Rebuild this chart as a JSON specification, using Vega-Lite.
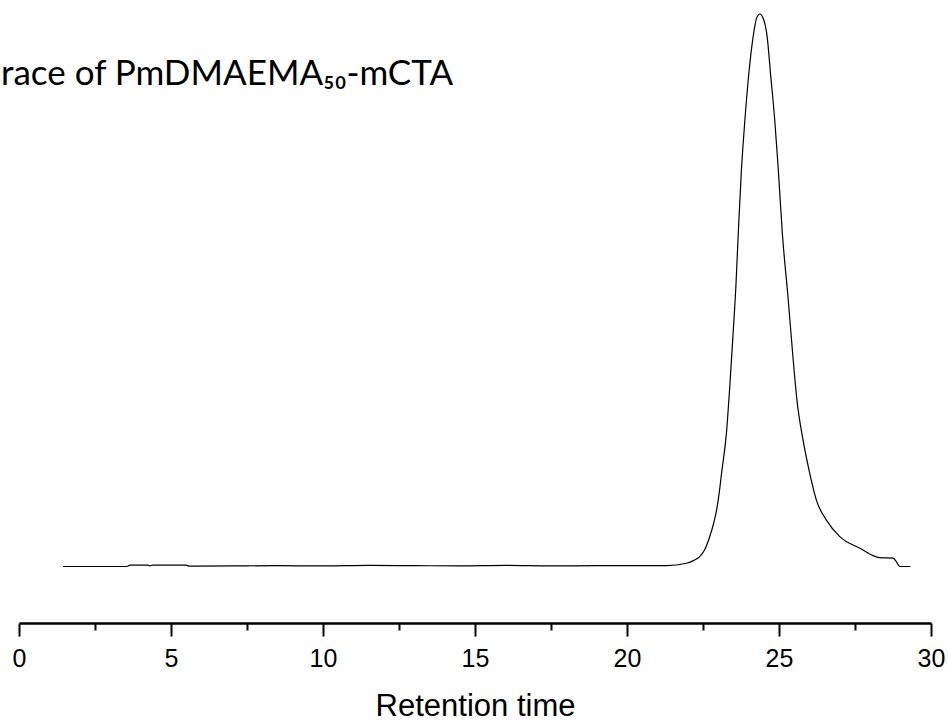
{
  "$schema": "https://vega.github.io/schema/vega-lite/v6.json",
  "autosize": {"type": "none"},
  "padding": {"left": 19, "top": 0, "right": 17, "bottom": 100},
  "width": 912,
  "height": 623,
  "background": "white",
  "title": {
    "text": "race of PmDMAEMA₅₀-mCTA",
    "orient": "top",
    "anchor": "start",
    "frame": "group",
    "offset": 0,
    "baseline": "alphabetic",
    "dx": -18,
    "dy": 120,
    "font": "Lato",
    "fontSize": 35,
    "fontWeight": "normal",
    "color": "black"
  },
  "config": {"view": {"stroke": null}},
  "data": {
    "values": [
      {"t": 1.45, "v": 0.0},
      {"t": 2.5, "v": 0.0},
      {"t": 3.55, "v": 0.0},
      {"t": 3.65, "v": 0.25},
      {"t": 4.25, "v": 0.25},
      {"t": 4.31, "v": 0.1},
      {"t": 4.4, "v": 0.25},
      {"t": 5.5, "v": 0.25},
      {"t": 5.6, "v": 0.05},
      {"t": 7.0, "v": 0.1},
      {"t": 8.5, "v": 0.15},
      {"t": 10.0, "v": 0.1},
      {"t": 11.5, "v": 0.2},
      {"t": 13.0, "v": 0.15},
      {"t": 14.5, "v": 0.1},
      {"t": 16.0, "v": 0.2},
      {"t": 17.5, "v": 0.1},
      {"t": 19.0, "v": 0.15},
      {"t": 20.5, "v": 0.15},
      {"t": 21.3, "v": 0.15},
      {"t": 21.96, "v": 0.58},
      {"t": 22.2, "v": 1.1},
      {"t": 22.39, "v": 1.77},
      {"t": 22.55, "v": 3.0},
      {"t": 22.72, "v": 5.39},
      {"t": 22.84, "v": 7.6},
      {"t": 22.94, "v": 10.0},
      {"t": 23.03, "v": 13.2},
      {"t": 23.11, "v": 16.87},
      {"t": 23.27, "v": 24.1},
      {"t": 23.38, "v": 32.5},
      {"t": 23.49, "v": 42.2},
      {"t": 23.58, "v": 50.5},
      {"t": 23.66, "v": 60.3},
      {"t": 23.76, "v": 71.4},
      {"t": 23.87, "v": 80.2},
      {"t": 24.02, "v": 89.9},
      {"t": 24.15, "v": 95.9},
      {"t": 24.26, "v": 99.2},
      {"t": 24.37, "v": 100.0},
      {"t": 24.5, "v": 98.9},
      {"t": 24.61, "v": 95.9},
      {"t": 24.72, "v": 89.3},
      {"t": 24.86, "v": 80.8},
      {"t": 24.97, "v": 72.4},
      {"t": 25.11, "v": 60.3},
      {"t": 25.3, "v": 48.5},
      {"t": 25.45, "v": 38.5},
      {"t": 25.59, "v": 30.1},
      {"t": 25.79, "v": 22.9},
      {"t": 26.01, "v": 16.9},
      {"t": 26.23, "v": 12.0},
      {"t": 26.56, "v": 8.4},
      {"t": 27.0, "v": 5.4},
      {"t": 27.66, "v": 3.3},
      {"t": 28.31, "v": 1.6},
      {"t": 28.75, "v": 1.5},
      {"t": 28.87, "v": 0.8},
      {"t": 28.97, "v": 0.0},
      {"t": 29.32, "v": 0.0}
    ]
  },
  "mark": {"type": "line", "color": "black", "strokeWidth": 1.2, "interpolate": "monotone"},
  "encoding": {
    "x": {
      "field": "t",
      "type": "quantitative",
      "scale": {"domain": [0, 30], "nice": false, "zero": false},
      "axis": {
        "values": [0, 2.5, 5, 7.5, 10, 12.5, 15, 17.5, 20, 22.5, 25, 27.5, 30],
        "labelExpr": "datum.value % 5 === 0 ? format(datum.value, 'd') : ''",
        "tickSize": {"condition": {"test": "datum.value % 5 === 0", "value": 13}, "value": 7},
        "tickWidth": 2,
        "tickColor": "black",
        "domainColor": "black",
        "domainWidth": 2.5,
        "grid": false,
        "labelFont": "Liberation Sans",
        "labelFontSize": 25,
        "labelColor": "black",
        "labelPadding": 10,
        "labelFlush": false,
        "labelOverlap": false,
        "title": "Retention time",
        "titleFont": "Liberation Sans",
        "titleFontSize": 31,
        "titleFontWeight": "normal",
        "titleColor": "black",
        "titlePadding": 20
      }
    },
    "y": {
      "field": "v",
      "type": "quantitative",
      "scale": {"domain": [-10.23, 102.53], "nice": false, "zero": false},
      "axis": null
    }
  }
}
